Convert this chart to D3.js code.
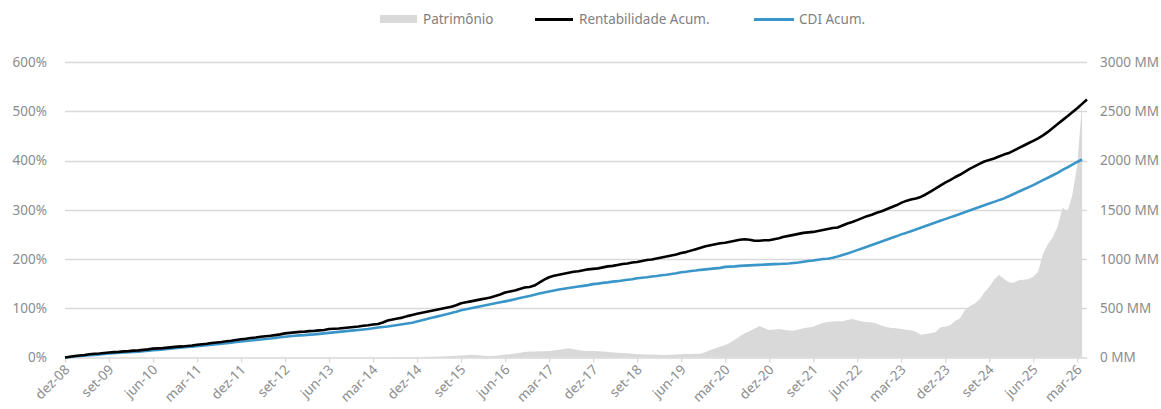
<!DOCTYPE html>
<html><head><meta charset="utf-8">
<script src="https://cdn.jsdelivr.net/npm/d3@7"></script>
<style>
html,body{margin:0;padding:0;background:#fff;}
svg text{font-family:"Noto Sans","Open Sans",sans-serif;}
</style></head>
<body>
<svg id="chart" width="1161" height="409"></svg>
<script>
// ---------- DATA ----------
const startMonth = "2008-12"; // dez-08, monthly categories through abr-26
const monthNames = ["jan","fev","mar","abr","mai","jun","jul","ago","set","out","nov","dez"];
const tickLabels = ["dez-08","set-09","jun-10","mar-11","dez-11","set-12","jun-13","mar-14","dez-14","set-15","jun-16","mar-17","dez-17","set-18","jun-19","mar-20","dez-20","set-21","jun-22","mar-23","dez-23","set-24","jun-25","mar-26"];
const leftTicks = [0,100,200,300,400,500,600];
const rightTicks = [0,500,1000,1500,2000,2500,3000];
const seriesNames = ["Patrimônio","Rentabilidade Acum.","CDI Acum."];

// Rentabilidade acumulada (%)
const rentabilidade = [
 0,1.5,3,4,5,6.5,7.5,8,9,10,11,11.5,
 12.5,13,14,14.5,15.5,16.5,18,18.5,19,20,21,22,
 22.5,23.5,24.5,26,27,28,29.5,30.5,31.5,33,34,35.5,
 37,38,39.5,40.5,42,43,44,45.5,47,49,50,51,
 52,52.5,53.5,54,55,56,58,58.5,59,60,61,62,
 63,64.5,65.5,67,68,71,75,77,79,81,84,86.5,
 89,91,93,95,97,99,101,103,106,110,112,114,
 116,118,120,122,125,128,132,134,136,139,142,143,
 146,152,158,163,166,168,170,172,174,175,177,179,
 180,181,183,185,186,188,190,191,193,194,196,198,
 199,201,203,205,207,209,212,214,217,220,223,226,
 228,230,232,233,235,237,239,240,239,237,237,238,
 238,240,242,245,247,249,251,253,254,255,257,259,
 261,263,264,268,272,275,279,283,287,290,294,297,
 301,305,309,314,318,321,323,326,331,337,343,349,
 355,360,366,371,377,383,388,393,398,401,404,408,
 412,415,420,425,430,435,440,445,451,458,466,474,
 482,490,498,506,515,524
];
// CDI acumulado (%)
const cdi = [
 0,1,2,3,3.5,4.5,5,6,7,8,8.5,9.5,
 10,11,11.5,12,13,14,15,15.5,16.5,17.5,18.5,19.5,
 20.5,21.5,22,23,24,25,26,27,28,29,30,31.5,
 32.5,33.5,34.5,35.5,36.5,37.5,38.5,39.5,41,42,43,44,
 45,45.5,46.5,47,48,49,50,51,52,53,54,55,
 56,57,58,59.5,61,62,63,64.5,66,67.5,69,70.5,
 73,75.5,78,80.5,83,85.5,88,90.5,93,96,98,100,
 102,104,106,108,110,112,114,116,118.5,121,123,125,
 127.5,130,132,134,136,138,139.5,141,142.5,144,145.5,147,
 149,150,151.5,152.5,154,155,156.5,158,159,161,162,163,
 164.5,165.5,167,168,169.5,171,173,174,175.5,176.5,178,179,
 180,181,182,184,184.5,185,186,186.5,187,187.5,188,188.5,
 189,189.5,190,190.5,191,192,193,194.5,196,197,198.5,200,
 200.5,202.5,205,208,211,214.5,218,221.5,225,228.5,232,235.5,
 239,242.5,246,250,253,256.5,260,263.5,267,270.5,274,277.5,
 281,284.5,288,291.5,295,298.5,302,305.5,309,312.5,316,319.5,
 323,327.5,332,336.5,341,345.5,350,355,360,365,370,375,
 381,386,391.5,397,402
];
// Patrimônio (R$ MM)
const patrimonio = [
 1,1,1,1,1,1,1,1,1,1,1,1,
 1,1,1,1,1,1,1,1,1,1,1,1,
 1,1,1,1,1,1,1,1,1,1,1,1,
 1,1,2,2,2,2,2,2,2,2,2,2,
 2,2,2,2,2,2,2,2,2,2,2,2,
 3,3,3,3,3,3,3,3,4,4,4,4,
 5,6,7,8,9,10,12,14,17,20,24,27,
 25,20,16,15,18,24,30,34,40,48,56,60,
 62,63,64,66,70,78,86,93,85,75,69,67,
 65,63,60,57,52,49,46,42,38,34,32,31,
 30,28,26,25,27,30,33,36,36,37,38,55,
 75,95,110,127,150,180,215,245,270,295,318,300,
 280,283,290,282,275,272,285,296,305,312,335,350,
 360,365,368,368,380,390,378,365,360,355,345,322,
 310,300,296,290,282,276,262,232,238,245,256,305,
 315,328,370,395,480,520,545,590,660,715,790,840,
 800,765,760,785,790,795,820,870,1050,1150,1220,1330,
 1520,1480,1650,1950,2580
];

// ---------- CHART ----------
(function () {
const svg = d3.select("#chart");
const n = rentabilidade.length;
const [sy, sm] = startMonth.split("-").map(Number);
const categories = d3.range(n).map(i => {
  const mm = (sm - 1 + i) % 12;
  const yy = sy + Math.floor((sm - 1 + i) / 12);
  return monthNames[mm] + "-" + String(yy % 100).padStart(2, "0");
});

const pLeft = 65, pRight = 1087, pTop = 62, pBottom = 357.5;
const x = d3.scaleLinear().domain([0, n - 1]).range([pLeft, pRight]);
const yL = d3.scaleLinear().domain([0, 600]).range([pBottom, pTop]);
const yR = d3.scaleLinear().domain([0, 3000]).range([pBottom, pTop]);

const textColor = "#8c8c8c";
const gridColor = "#d9d9d9";

// gridlines
svg.append("g").selectAll("line").data(leftTicks.filter(d => d > 0)).join("line")
  .attr("x1", pLeft).attr("x2", pRight)
  .attr("y1", d => Math.round(yL(d)) + 0.5).attr("y2", d => Math.round(yL(d)) + 0.5)
  .attr("stroke", gridColor).attr("stroke-width", 1.3);

// area
svg.append("path").datum(patrimonio)
  .attr("fill", "#d9d9d9")
  .attr("d", d3.area().x((d, i) => x(i)).y0(yR(0)).y1(d => yR(d)));

// x axis
const tickIdx = tickLabels.map(t => categories.indexOf(t));
const xAxis = d3.axisBottom(x).tickValues(tickIdx).tickSize(5)
  .tickFormat(d => categories[d]);
const gx = svg.append("g").attr("transform", `translate(0,${pBottom})`).call(xAxis);
gx.select(".domain").attr("stroke", gridColor).attr("stroke-width", 1.3)
  .attr("d", `M${pLeft},0.5H${pRight}`);
gx.selectAll(".tick line").attr("stroke", gridColor).attr("stroke-width", 1.3);
gx.selectAll(".tick text")
  .attr("fill", textColor).style("font-size", "13.5px")
  .attr("text-anchor", "end").attr("dy", null).attr("y", 0)
  .attr("transform", "translate(5,13) rotate(-45)");

// left axis
const yAxisL = d3.axisLeft(yL).tickValues(leftTicks).tickSize(0).tickPadding(0)
  .tickFormat(d => d + "%");
const gl = svg.append("g").attr("transform", `translate(47,0)`).call(yAxisL);
gl.select(".domain").remove();
gl.selectAll("text").attr("fill", textColor).style("font-size", "13.5px");

// right axis
const yAxisR = d3.axisRight(yR).tickValues(rightTicks).tickSize(0).tickPadding(0)
  .tickFormat(d => d + " MM");
const gr = svg.append("g").attr("transform", `translate(1100,0)`).call(yAxisR);
gr.select(".domain").remove();
gr.selectAll("text").attr("fill", textColor).style("font-size", "13.5px");

// lines
const line = d3.line().x((d, i) => x(i)).y(d => yL(d));
svg.append("path").datum(cdi).attr("fill", "none")
  .attr("stroke", "#3a96c8").attr("stroke-width", 2.6)
  .attr("stroke-linejoin", "round").attr("d", line);
svg.append("path").datum(rentabilidade).attr("fill", "none")
  .attr("stroke", "#000").attr("stroke-width", 2.6)
  .attr("stroke-linejoin", "round").attr("d", line);

// legend
const lg = svg.append("g");
lg.append("rect").attr("x", 380).attr("y", 15).attr("width", 37).attr("height", 8).attr("fill", "#d9d9d9");
lg.append("text").attr("x", 423).attr("y", 23.5).text(seriesNames[0]);
lg.append("line").attr("x1", 535).attr("x2", 573).attr("y1", 19.5).attr("y2", 19.5).attr("stroke", "#000").attr("stroke-width", 3);
lg.append("text").attr("x", 579).attr("y", 23.5).text(seriesNames[1]);
lg.append("line").attr("x1", 754).attr("x2", 794).attr("y1", 19.5).attr("y2", 19.5).attr("stroke", "#3a96c8").attr("stroke-width", 3);
lg.append("text").attr("x", 799).attr("y", 23.5).text(seriesNames[2]);
lg.selectAll("text").attr("fill", "#7f7f7f").style("font-size", "13.5px");
})();
</script>
</body></html>
